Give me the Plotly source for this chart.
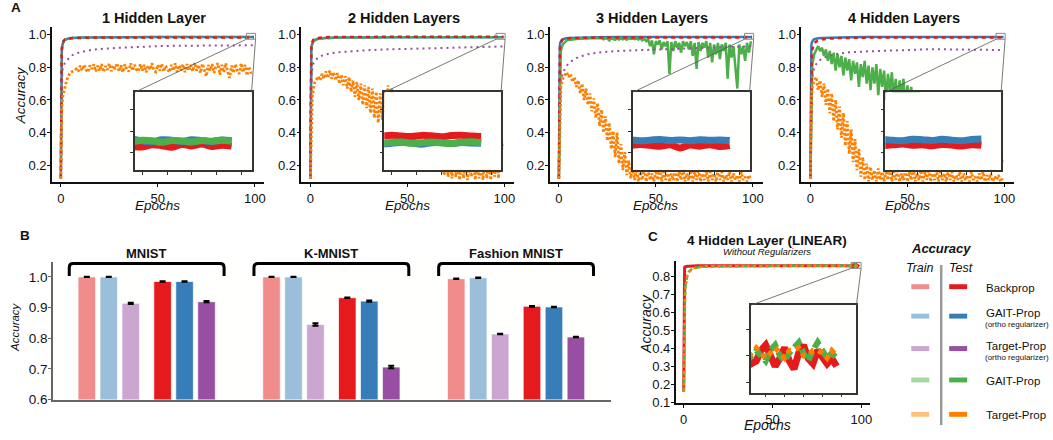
import plotly.graph_objects as go

# ============================ DATA ============================
SMOOTH_EPOCHS = [0, 0.25, 0.5, 0.75, 1, 1.5, 2, 3, 4, 6, 8, 10, 15, 20, 30, 40, 50, 60, 70, 80, 90,
                 95, 95.5, 96, 96.4, 96.8, 97.2, 97.6, 98, 98.4, 98.8, 99.2, 99.6]
NOISY_EPOCHS = [0, 0.5] + list(range(1, 100))
LINEAR_EPOCHS = [0, 0.25, 0.5, 0.75, 1, 1.5, 2, 3, 4, 5, 6, 8, 10, 15, 20, 30, 40, 50, 60, 70, 80, 90,
                 94, 94.25, 94.5, 94.75, 95, 95.25, 95.5, 95.75, 96, 96.25, 96.5, 96.75,
                 97, 97.25, 97.5, 97.75, 98, 98.25, 98.5, 98.75]

PANEL_TITLES = ["1 Hidden Layer", "2 Hidden Layers", "3 Hidden Layers", "4 Hidden Layers"]

# --- Backprop (test) ---
bp_1hl = [0.12, 0.80, 0.91, 0.94, 0.952, 0.963, 0.969, 0.974, 0.977, 0.979, 0.980, 0.981, 0.982, 0.983, 0.983,
          0.9835, 0.9835, 0.9838, 0.9835, 0.984, 0.9835,
          0.9838, 0.9830, 0.9826, 0.9836, 0.9832, 0.9825, 0.9838, 0.9831, 0.9840, 0.9828, 0.9834, 0.9830]
bp_2hl = [0.12, 0.85, 0.93, 0.95, 0.96, 0.968, 0.973, 0.977, 0.98, 0.982, 0.984, 0.985, 0.986, 0.9865, 0.987,
          0.9872, 0.9875, 0.9876, 0.9877, 0.9878, 0.9878,
          0.9880, 0.9876, 0.9881, 0.9877, 0.9875, 0.9880, 0.9878, 0.9874, 0.9879, 0.9881, 0.9877, 0.9875]
bp_3hl = [0.12, 0.80, 0.91, 0.94, 0.952, 0.963, 0.969, 0.974, 0.977, 0.979, 0.980, 0.981, 0.982, 0.9825, 0.983,
          0.9835, 0.9835, 0.984, 0.9835, 0.984, 0.9838,
          0.9835, 0.9832, 0.9838, 0.9834, 0.9830, 0.9836, 0.9822, 0.9835, 0.9830, 0.9837, 0.9828, 0.9833]
bp_4hl = [0.12, 0.60, 0.82, 0.88, 0.91, 0.935, 0.948, 0.958, 0.964, 0.970, 0.974, 0.976, 0.979, 0.981, 0.982,
          0.983, 0.983, 0.9835, 0.9835, 0.9835, 0.984,
          0.9838, 0.9833, 0.9836, 0.9840, 0.9834, 0.9837, 0.9832, 0.9838, 0.9835, 0.9831, 0.9837, 0.9834]

# --- GAIT-Prop with ortho regularizer (test) ---
gaito_1hl = [0.12, 0.78, 0.90, 0.935, 0.95, 0.962, 0.968, 0.974, 0.977, 0.979, 0.981, 0.982, 0.983, 0.984, 0.985,
             0.985, 0.9855, 0.9855, 0.986, 0.9855, 0.986,
             0.9858, 0.9862, 0.9855, 0.9850, 0.9860, 0.9857, 0.9852, 0.9860, 0.9856, 0.9851, 0.9859, 0.9855]
gaito_2hl = [0.12, 0.80, 0.90, 0.935, 0.95, 0.96, 0.966, 0.972, 0.975, 0.978, 0.98, 0.981, 0.982, 0.983, 0.984,
             0.9842, 0.9845, 0.9845, 0.9847, 0.9846, 0.9848,
             0.9846, 0.9840, 0.9843, 0.9848, 0.9845, 0.9839, 0.9846, 0.9848, 0.9842, 0.9847, 0.9845, 0.9843]
gaito_3hl = [0.12, 0.88, 0.935, 0.952, 0.96, 0.968, 0.972, 0.976, 0.978, 0.98, 0.981, 0.982, 0.983, 0.984, 0.985,
             0.9852, 0.9855, 0.9855, 0.9857, 0.9856, 0.9858,
             0.9857, 0.9860, 0.9855, 0.9858, 0.9861, 0.9856, 0.9859, 0.9855, 0.9860, 0.9857, 0.9859, 0.9856]
gaito_4hl = [0.12, 0.88, 0.935, 0.952, 0.96, 0.968, 0.972, 0.976, 0.978, 0.98, 0.981, 0.982, 0.983, 0.984, 0.985,
             0.9852, 0.9855, 0.9856, 0.9857, 0.9858, 0.9858,
             0.9858, 0.9862, 0.9857, 0.9855, 0.9862, 0.9860, 0.9856, 0.9862, 0.9858, 0.9855, 0.9861, 0.9863]

# --- Target-Prop with ortho regularizer (test) ---
tpo_1hl = [0.12, 0.55, 0.70, 0.76, 0.79, 0.81, 0.825, 0.842, 0.855, 0.875, 0.885, 0.893, 0.905, 0.912, 0.92,
           0.926, 0.93, 0.932, 0.933, 0.934, 0.935,
           0.935, 0.935, 0.934, 0.935, 0.935, 0.934, 0.935, 0.935, 0.935, 0.934, 0.935, 0.935]
tpo_2hl = [0.12, 0.60, 0.72, 0.77, 0.80, 0.82, 0.835, 0.85, 0.86, 0.872, 0.88, 0.885, 0.893, 0.898, 0.905,
           0.91, 0.913, 0.916, 0.92, 0.923, 0.926,
           0.927, 0.927, 0.928, 0.927, 0.928, 0.928, 0.927, 0.928, 0.928, 0.927, 0.928, 0.928]
tpo_3hl = [0.12, 0.45, 0.60, 0.67, 0.71, 0.74, 0.76, 0.79, 0.81, 0.835, 0.85, 0.862, 0.88, 0.89, 0.90,
           0.905, 0.91, 0.915, 0.918, 0.922, 0.926,
           0.928, 0.928, 0.929, 0.928, 0.929, 0.929, 0.928, 0.929, 0.929, 0.928, 0.929, 0.929]
tpo_4hl = [0.12, 0.45, 0.62, 0.70, 0.74, 0.78, 0.80, 0.82, 0.835, 0.855, 0.865, 0.872, 0.885, 0.892, 0.898,
           0.903, 0.908, 0.91, 0.91, 0.909, 0.907,
           0.906, 0.906, 0.905, 0.906, 0.906, 0.905, 0.906, 0.905, 0.906, 0.905, 0.905, 0.906]

# --- GAIT-Prop without regularizer (test) ---
gait_1hl = [0.12, 0.76, 0.895, 0.93, 0.948, 0.96, 0.967, 0.973, 0.976, 0.979, 0.981, 0.982, 0.983, 0.984, 0.985,
            0.9852, 0.9855, 0.9853, 0.9856, 0.9855, 0.9857,
            0.9855, 0.9850, 0.9857, 0.9855, 0.9848, 0.9856, 0.9854, 0.9849, 0.9856, 0.9853, 0.9857, 0.9852]
gait_2hl = [0.12, 0.78, 0.89, 0.93, 0.945, 0.957, 0.964, 0.970, 0.974, 0.977, 0.979, 0.980, 0.982, 0.983, 0.9838,
            0.9842, 0.9845, 0.9846, 0.9845, 0.9848, 0.9847,
            0.9848, 0.9844, 0.9847, 0.9849, 0.9843, 0.9846, 0.9849, 0.9845, 0.9842, 0.9848, 0.9850, 0.9846]
gait_3hl = [0.12, 0.75, 0.90, 0.94, 0.955, 0.963, 0.968, 0.970, 0.972, 0.974,
            0.975, 0.976, 0.977, 0.975, 0.977, 0.978, 0.976, 0.978, 0.977, 0.979,
            0.978, 0.979, 0.977, 0.979, 0.972, 0.978, 0.976, 0.965, 0.978, 0.974,
            0.968, 0.977, 0.970, 0.978, 0.972, 0.977, 0.969, 0.978, 0.975, 0.977,
            0.973, 0.976, 0.970, 0.977, 0.965, 0.975, 0.960, 0.972, 0.930, 0.965,
            0.880, 0.960, 0.940, 0.965, 0.910, 0.955, 0.930, 0.960, 0.760, 0.955,
            0.900, 0.960, 0.920, 0.950, 0.890, 0.960, 0.930, 0.955, 0.910, 0.960,
            0.870, 0.950, 0.790, 0.955, 0.900, 0.950, 0.920, 0.960, 0.860, 0.950,
            0.830, 0.940, 0.880, 0.950, 0.850, 0.940, 0.900, 0.950, 0.730, 0.940,
            0.860, 0.930, 0.800, 0.670, 0.940, 0.880, 0.930, 0.840, 0.950, 0.890,
            0.960]
gait_4hl = [0.12, 0.60, 0.82, 0.88, 0.91, 0.93, 0.90, 0.92, 0.87, 0.91,
            0.84, 0.90, 0.82, 0.89, 0.78, 0.88, 0.80, 0.87, 0.75, 0.86,
            0.78, 0.85, 0.72, 0.84, 0.76, 0.83, 0.68, 0.82, 0.74, 0.84,
            0.70, 0.81, 0.66, 0.80, 0.70, 0.82, 0.63, 0.79, 0.68, 0.78,
            0.60, 0.76, 0.65, 0.77, 0.61, 0.73, 0.58, 0.72, 0.62, 0.73,
            0.56, 0.69, 0.60, 0.68, 0.55, 0.66, 0.57, 0.65, 0.53, 0.62,
            0.50, 0.55, 0.48, 0.53, 0.45, 0.50, 0.42, 0.47, 0.39, 0.44,
            0.36, 0.41, 0.34, 0.39, 0.31, 0.36, 0.29, 0.34, 0.27, 0.32,
            0.25, 0.30, 0.24, 0.29, 0.22, 0.28, 0.21, 0.26, 0.20, 0.25,
            0.19, 0.24, 0.18, 0.23, 0.17, 0.23, 0.17, 0.22, 0.19, 0.27,
            0.22]

# --- Target-Prop without regularizer (test) ---
tp_1hl = [0.12, 0.55, 0.62, 0.68, 0.72, 0.75, 0.77, 0.775, 0.785, 0.79,
          0.775, 0.81, 0.78, 0.815, 0.785, 0.77, 0.812, 0.79, 0.818, 0.775,
          0.81, 0.78, 0.82, 0.772, 0.808, 0.785, 0.822, 0.776, 0.81, 0.79,
          0.825, 0.775, 0.812, 0.77, 0.818, 0.79, 0.775, 0.825, 0.78, 0.815,
          0.785, 0.775, 0.82, 0.78, 0.815, 0.77, 0.81, 0.785, 0.825, 0.78,
          0.772, 0.815, 0.78, 0.822, 0.775, 0.81, 0.79, 0.77, 0.815, 0.78,
          0.825, 0.772, 0.812, 0.78, 0.818, 0.77, 0.82, 0.78, 0.815, 0.775,
          0.828, 0.78, 0.815, 0.765, 0.822, 0.775, 0.745, 0.815, 0.78, 0.82,
          0.765, 0.81, 0.825, 0.755, 0.815, 0.77, 0.825, 0.775, 0.735, 0.81,
          0.765, 0.82, 0.775, 0.76, 0.825, 0.77, 0.815, 0.75, 0.805, 0.765,
          0.78]
tp_2hl = [0.12, 0.50, 0.62, 0.70, 0.72, 0.745, 0.72, 0.76, 0.73, 0.775,
          0.735, 0.78, 0.73, 0.77, 0.72, 0.765, 0.70, 0.755, 0.69, 0.745,
          0.67, 0.74, 0.65, 0.72, 0.62, 0.71, 0.60, 0.70, 0.57, 0.69,
          0.55, 0.68, 0.52, 0.67, 0.49, 0.65, 0.46, 0.64, 0.48, 0.66,
          0.50, 0.69, 0.45, 0.67, 0.42, 0.62, 0.40, 0.58, 0.38, 0.55,
          0.35, 0.52, 0.33, 0.49, 0.30, 0.46, 0.28, 0.43, 0.26, 0.40,
          0.24, 0.38, 0.22, 0.35, 0.20, 0.32, 0.18, 0.30, 0.16, 0.28,
          0.14, 0.26, 0.13, 0.24, 0.12, 0.25, 0.13, 0.22, 0.11, 0.24,
          0.12, 0.23, 0.11, 0.21, 0.13, 0.24, 0.11, 0.22, 0.12, 0.20,
          0.11, 0.23, 0.12, 0.25, 0.11, 0.21, 0.13, 0.28, 0.12, 0.45,
          0.30]
tp_3hl = [0.12, 0.55, 0.68, 0.73, 0.75, 0.77, 0.74, 0.76, 0.71, 0.74,
          0.68, 0.72, 0.64, 0.70, 0.60, 0.67, 0.57, 0.64, 0.53, 0.61,
          0.49, 0.58, 0.44, 0.54, 0.40, 0.50, 0.35, 0.46, 0.30, 0.41,
          0.25, 0.40, 0.21, 0.33, 0.17, 0.28, 0.14, 0.23, 0.12, 0.19,
          0.11, 0.18, 0.10, 0.16, 0.11, 0.19, 0.10, 0.17, 0.11, 0.15,
          0.10, 0.17, 0.11, 0.19, 0.10, 0.16, 0.11, 0.18, 0.10, 0.15,
          0.11, 0.17, 0.10, 0.16, 0.11, 0.19, 0.10, 0.15, 0.11, 0.17,
          0.10, 0.16, 0.11, 0.18, 0.10, 0.15, 0.11, 0.17, 0.10, 0.16,
          0.11, 0.15, 0.10, 0.17, 0.11, 0.16, 0.10, 0.14, 0.11, 0.16,
          0.10, 0.15, 0.11, 0.14, 0.10, 0.16, 0.11, 0.13, 0.10, 0.14,
          0.11]
tp_4hl = [0.12, 0.60, 0.68, 0.72, 0.74, 0.66, 0.72, 0.62, 0.70, 0.57,
          0.67, 0.52, 0.64, 0.47, 0.60, 0.42, 0.56, 0.37, 0.52, 0.32,
          0.47, 0.27, 0.42, 0.22, 0.36, 0.17, 0.30, 0.13, 0.25, 0.11,
          0.21, 0.10, 0.19, 0.11, 0.17, 0.10, 0.18, 0.11, 0.16, 0.10,
          0.17, 0.11, 0.19, 0.10, 0.16, 0.11, 0.18, 0.10, 0.15, 0.11,
          0.17, 0.10, 0.16, 0.11, 0.19, 0.10, 0.15, 0.11, 0.17, 0.10,
          0.16, 0.11, 0.18, 0.10, 0.15, 0.11, 0.17, 0.10, 0.16, 0.11,
          0.15, 0.10, 0.17, 0.11, 0.16, 0.10, 0.14, 0.11, 0.16, 0.10,
          0.15, 0.11, 0.14, 0.10, 0.16, 0.11, 0.13, 0.10, 0.15, 0.11,
          0.16, 0.10, 0.14, 0.11, 0.15, 0.10, 0.13, 0.11, 0.14, 0.10,
          0.12]

# --- Panel B: final accuracies ---
DATASETS = ["MNIST", "K-MNIST", "Fashion MNIST"]
train_bp = [1.000, 1.000, 0.994]
train_gaito = [1.000, 1.000, 0.997]
train_tpo = [0.914, 0.845, 0.814]
test_bp = [0.985, 0.932, 0.904]
test_gaito = [0.985, 0.921, 0.902]
test_tpo = [0.919, 0.706, 0.804]
train_bp_err = [0.0006, 0.0006, 0.001]
train_gaito_err = [0.0006, 0.0006, 0.001]
train_tpo_err = [0.002, 0.004, 0.001]
test_bp_err = [0.001, 0.001, 0.001]
test_gaito_err = [0.001, 0.002, 0.001]
test_tpo_err = [0.002, 0.004, 0.001]

# --- Panel C: 4 hidden layer linear network ---
bp_lin = [0.16, 0.84, 0.852, 0.855, 0.856, 0.857, 0.858, 0.858, 0.859, 0.859, 0.86, 0.86, 0.86, 0.861, 0.86,
          0.861, 0.86, 0.861, 0.86, 0.861, 0.86, 0.861,
          0.859, 0.857, 0.858, 0.862, 0.864, 0.860, 0.856, 0.859, 0.863, 0.858, 0.855, 0.861,
          0.864, 0.859, 0.857, 0.862, 0.860, 0.857, 0.859, 0.856]
gait_lin = [0.16, 0.45, 0.62, 0.70, 0.75, 0.79, 0.81, 0.83, 0.84, 0.845, 0.848, 0.852, 0.855, 0.857, 0.858,
            0.859, 0.86, 0.86, 0.861, 0.86, 0.861, 0.86,
            0.858, 0.860, 0.862, 0.860, 0.858, 0.862, 0.864, 0.860, 0.858, 0.861, 0.863, 0.865,
            0.861, 0.858, 0.862, 0.865, 0.862, 0.859, 0.861, 0.859]
tp_lin = [0.16, 0.42, 0.60, 0.69, 0.74, 0.785, 0.805, 0.825, 0.838, 0.845, 0.848, 0.852, 0.855, 0.857, 0.858,
          0.859, 0.86, 0.86, 0.861, 0.86, 0.861, 0.86,
          0.858, 0.861, 0.863, 0.861, 0.859, 0.861, 0.863, 0.861, 0.859, 0.862, 0.862, 0.863,
          0.860, 0.860, 0.862, 0.862, 0.861, 0.859, 0.862, 0.860]

LEGEND_LABELS = ["Backprop", "GAIT-Prop", "Target-Prop", "GAIT-Prop", "Target-Prop"]
LEGEND_SUBLABELS = [None, "(ortho regularizer)", "(ortho regularizer)", None, None]

# ============================ STYLE / LAYOUT ============================
RED, BLUE, PURPLE, GREEN, ORANGE = "#e41a1c", "#377eb8", "#984ea3", "#4daf4a", "#ff7f00"
LIGHT = {RED: "#f18c8d", BLUE: "#9bbedb", PURPLE: "#cba6d1", GREEN: "#a6d7a4", ORANGE: "#ffbf7f"}
FONT = "Liberation Sans, Arial, Helvetica, sans-serif"
TICKFONT = dict(family=FONT, size=13, color="#111")

W, H = 1053, 440


def fx(px):
    return px / W


def fy(py):
    return 1 - py / H


def lin(v, r, p):
    return p[0] + (v - r[0]) / (r[1] - r[0]) * (p[1] - p[0])


def axn(n):
    return ("x" if n == 1 else f"x{n}", "y" if n == 1 else f"y{n}")


def layn(n):
    return ("xaxis" if n == 1 else f"xaxis{n}", "yaxis" if n == 1 else f"yaxis{n}")


A_X = [(52, 265), (302, 515), (551, 764), (803, 1016)]
A_Y = (27, 185)
A_XR = [-4.6, 105]
A_YR = [0.1, 1.05]
IN_X = [(135, 252), (385, 502), (634, 751), (887, 1003)]
IN_Y = (94, 173)
IN_XR = [95.7, 100.4]
IN_YR = [0.972, 1.008]

B_X = (53, 612)
B_Y = (267, 407)
B_XR = [-1.545, 23.86]
B_YR = [0.6, 1.048]
GROUP_GAP = 8.41
SLOT = [0, 1, 2, 3.45, 4.45, 5.45]

C_X = (677, 872)
C_Y = (266, 410)
C_XR = [-4.5, 105]
C_YR = [0.1, 0.886]
CI_X = (752, 858)
CI_Y = (311, 400)
CI_XR = [94.2, 99.8]
CI_YR = [0.846, 0.879]

BP = [bp_1hl, bp_2hl, bp_3hl, bp_4hl]
GAITO = [gaito_1hl, gaito_2hl, gaito_3hl, gaito_4hl]
TPO = [tpo_1hl, tpo_2hl, tpo_3hl, tpo_4hl]
GAIT = [(SMOOTH_EPOCHS, gait_1hl), (SMOOTH_EPOCHS, gait_2hl), (NOISY_EPOCHS, gait_3hl), (NOISY_EPOCHS, gait_4hl)]
TP = [tp_1hl, tp_2hl, tp_3hl, tp_4hl]

for s in BP + GAITO + TPO + [gait_1hl, gait_2hl]:
    assert len(s) == len(SMOOTH_EPOCHS), len(s)
for s in TP + [gait_3hl, gait_4hl]:
    assert len(s) == len(NOISY_EPOCHS), len(s)
for s in [bp_lin, gait_lin, tp_lin]:
    assert len(s) == len(LINEAR_EPOCHS), len(s)

fig = go.Figure()
layout = dict(width=W, height=H, margin=dict(l=0, r=0, t=0, b=0, pad=0),
              paper_bgcolor="white", plot_bgcolor="#fffffe", showlegend=False,
              barmode="overlay", font=dict(family=FONT, color="#111"))
shapes = []
annotations = []


def line_tr(x, y, n, color, width, dash="solid", shape="linear"):
    xa, ya = axn(n)
    fig.add_trace(go.Scatter(x=x, y=y, mode="lines", xaxis=xa, yaxis=ya, hoverinfo="skip",
                             line=dict(color=color, width=width, dash=dash, shape=shape)))


def main_axes(n, xd, yd, xr, yr, ytickvals):
    xk, yk = layn(n)
    xa, ya = axn(n)
    layout[xk] = dict(domain=[fx(xd[0]), fx(xd[1])], range=xr, anchor=ya, tickvals=[0, 50, 100],
                      ticks="outside", ticklen=4, tickcolor="#111", showline=True, linecolor="#111",
                      linewidth=1.5, showgrid=False, zeroline=False, tickfont=TICKFONT)
    layout[yk] = dict(domain=[fy(yd[1]), fy(yd[0])], range=yr, anchor=xa, tickvals=ytickvals,
                      tickformat=".1f", ticks="outside", ticklen=3, tickcolor="#111", showline=True,
                      linecolor="#111", linewidth=1.5, showgrid=False, zeroline=False, tickfont=TICKFONT,
                      ticklabelstandoff=-2)


def inset_axes(n, xd, yd, xr, yr, x0tick):
    xk, yk = layn(n)
    xa, ya = axn(n)
    common = dict(showline=True, mirror=True, linecolor="#333", linewidth=1.5, ticks="outside",
                  ticklen=3, tickcolor="#333", showticklabels=False, showgrid=False, zeroline=False)
    layout[xk] = dict(domain=[fx(xd[0]), fx(xd[1])], range=xr, anchor=ya, dtick=1, tick0=x0tick, **common)
    layout[yk] = dict(domain=[fy(yd[1]), fy(yd[0])], range=yr, anchor=xa, dtick=0.01, tick0=0.8, **common)


def zoom_marks(main_xd, main_yd, main_xr, main_yr, in_xd, in_yd, in_xr, in_yr):
    rx0 = lin(in_xr[0], main_xr, main_xd)
    rx1 = lin(in_xr[1], main_xr, main_xd)
    ry0 = lin(in_yr[0], main_yr, (main_yd[1], main_yd[0]))
    ry1 = lin(in_yr[1], main_yr, (main_yd[1], main_yd[0]))
    shapes.append(dict(type="rect", xref="paper", yref="paper", x0=fx(rx0), x1=fx(rx1), y0=fy(ry0), y1=fy(ry1),
                       line=dict(color="#888", width=1), layer="above"))
    shapes.append(dict(type="line", xref="paper", yref="paper", x0=fx(rx0), y0=fy(ry0),
                       x1=fx(in_xd[0]), y1=fy(in_yd[0]), line=dict(color="#555", width=0.8)))
    shapes.append(dict(type="line", xref="paper", yref="paper", x0=fx(rx1), y0=fy(ry0),
                       x1=fx(in_xd[1]), y1=fy(in_yd[0]), line=dict(color="#555", width=0.8)))


def text(x, y, s, size, xanchor="center", angle=0, xref="paper", color="#111"):
    annotations.append(dict(x=x, y=y, xref=xref, yref="paper", text=s, showarrow=False,
                            xanchor=xanchor, yanchor="middle", textangle=angle,
                            font=dict(family=FONT, size=size, color=color)))


# ---------------- Panel A ----------------
for i in range(4):
    nm, ni = 2 * i + 1, 2 * i + 2
    main_axes(nm, A_X[i], A_Y, A_XR, A_YR, [0.2, 0.4, 0.6, 0.8, 1.0])
    inset_axes(ni, IN_X[i], IN_Y, IN_XR, IN_YR, 96)
    gx, gy = GAIT[i]
    noisy_green = gx is NOISY_EPOCHS
    line_tr(SMOOTH_EPOCHS, GAITO[i], nm, BLUE, 2.5)
    if noisy_green:
        line_tr(gx, gy, nm, GREEN, 2.5)
    else:
        line_tr(gx, gy, nm, GREEN, 2.5, "5px,3px")
    line_tr(SMOOTH_EPOCHS, BP[i], nm, RED, 2.5, "4px,4px")
    line_tr(SMOOTH_EPOCHS, TPO[i], nm, PURPLE, 2, "2px,4px")
    line_tr(NOISY_EPOCHS, TP[i], nm, ORANGE, 2.8, "2.5px,2px")
    # inset
    line_tr(SMOOTH_EPOCHS, BP[i], ni, RED, 7, shape="spline")
    line_tr(SMOOTH_EPOCHS, GAITO[i], ni, BLUE, 7, shape="spline")
    line_tr(gx, gy, ni, GREEN, 7, shape="spline")
    zoom_marks(A_X[i], A_Y, A_XR, A_YR, IN_X[i], IN_Y, IN_XR, IN_YR)
    xa, _ = axn(nm)
    text(fx((A_X[i][0] + A_X[i][1]) / 2 - 4), fy(18), "<b>" + PANEL_TITLES[i] + "</b>", 14.5)
    annotations.append(dict(x=50, y=fy(209), xref=xa, yref="paper", text="<i>Epochs</i>", showarrow=False,
                            xanchor="center", yanchor="middle", font=dict(family=FONT, size=13.5, color="#111")))

text(fx(20), fy(97), "<i>Accuracy</i>", 13.5, angle=-90)
text(fx(16), fy(8), "<b>A</b>", 13.5)

# ---------------- Panel B ----------------
nb = 9
xk, yk = layn(nb)
layout[xk] = dict(domain=[fx(B_X[0]), fx(B_X[1])], range=B_XR, anchor="y9", showticklabels=False,
                  ticks="", showline=True, linecolor="#666", linewidth=1.5, showgrid=False, zeroline=False)
layout[yk] = dict(domain=[fy(B_Y[1]), fy(B_Y[0])], range=B_YR, anchor="x9",
                  tickvals=[0.6, 0.7, 0.8, 0.9, 1.0], tickformat=".1f", ticks="outside", ticklen=3,
                  tickcolor="#666", showline=True, linecolor="#666", linewidth=1.5, showgrid=False,
                  zeroline=False, tickfont=dict(family=FONT, size=13.5, color="#111"), ticklabelstandoff=-2)

bar_series = [(train_bp, train_bp_err, LIGHT[RED]), (train_gaito, train_gaito_err, LIGHT[BLUE]),
              (train_tpo, train_tpo_err, LIGHT[PURPLE]), (test_bp, test_bp_err, RED),
              (test_gaito, test_gaito_err, BLUE), (test_tpo, test_tpo_err, PURPLE)]
for k, (vals, errs, col) in enumerate(bar_series):
    xs = [g * GROUP_GAP + SLOT[k] for g in range(len(DATASETS))]
    fig.add_trace(go.Bar(x=xs, y=vals, width=0.8, xaxis="x9", yaxis="y9", hoverinfo="skip",
                         marker=dict(color=col, line=dict(color="rgba(255,255,255,0.7)", width=1)),
                         error_y=dict(type="data", array=errs, color="#000", thickness=2, width=3)))

for g, name in enumerate(DATASETS):
    L = lin(g * GROUP_GAP + SLOT[0] - 0.8, B_XR, B_X)
    R = lin(g * GROUP_GAP + SLOT[-1] + 0.8, B_XR, B_X)
    yt, yb, r = 268.5, 281, 4
    path = (f"M {fx(L)},{fy(yb)} L {fx(L)},{fy(yt + r)} Q {fx(L)},{fy(yt)} {fx(L + r)},{fy(yt)} "
            f"L {fx(R - r)},{fy(yt)} Q {fx(R)},{fy(yt)} {fx(R)},{fy(yt + r)} L {fx(R)},{fy(yb)}")
    shapes.append(dict(type="path", xref="paper", yref="paper", path=path, line=dict(color="#000", width=3)))
    text(fx((L + R) / 2), fy(258), "<b>" + name + "</b>", 13)

text(fx(15), fy(333), "<i>Accuracy</i>", 11.5, angle=-90)
text(fx(25), fy(240), "<b>B</b>", 13.5)

# ---------------- Panel C ----------------
main_axes(10, C_X, C_Y, C_XR, C_YR, [0.1, 0.2, 0.3, 0.4, 0.5, 0.6, 0.7, 0.8])
inset_axes(11, CI_X, CI_Y, CI_XR, CI_YR, 95)
line_tr(LINEAR_EPOCHS, bp_lin, 10, RED, 3)
line_tr(LINEAR_EPOCHS, gait_lin, 10, GREEN, 2.5, "5px,3px")
line_tr(LINEAR_EPOCHS, tp_lin, 10, ORANGE, 2.5, "3px,3px")
line_tr(LINEAR_EPOCHS, bp_lin, 11, RED, 7)
line_tr(LINEAR_EPOCHS, gait_lin, 11, GREEN, 6, "9px,5px")
line_tr(LINEAR_EPOCHS, tp_lin, 11, ORANGE, 5, "5px,5px")
zoom_marks(C_X, C_Y, C_XR, C_YR, CI_X, CI_Y, CI_XR, CI_YR)
annotations.append(dict(x=47, y=fy(433), xref="x10", yref="paper", text="<i>Epochs</i>", showarrow=False,
                        xanchor="center", yanchor="middle", font=dict(family=FONT, size=14, color="#111")))
text(fx(647), fy(330), "<i>Accuracy</i>", 14, angle=-90)
text(fx(768), fy(245), "<b>4 Hidden Layer (LINEAR)</b>", 13.5)
text(fx(768), fy(256), "<i>Without Regularizers</i>", 9.5)
text(fx(654), fy(241), "<b>C</b>", 13.5)

# ---------------- Legend ----------------
text(fx(943), fy(253), "<b><i>Accuracy</i></b>", 13)
text(fx(922), fy(273), "<i>Train</i>", 12.5)
text(fx(963), fy(273), "<i>Test</i>", 12.5)
shapes.append(dict(type="line", xref="paper", yref="paper", x0=fx(943), x1=fx(943), y0=fy(270), y1=fy(433),
                   line=dict(color="#999", width=2.5)))
ROW_Y = [292, 322, 355, 387, 422]
for col, lab, sub, ry in zip([RED, BLUE, PURPLE, GREEN, ORANGE], LEGEND_LABELS, LEGEND_SUBLABELS, ROW_Y):
    shapes.append(dict(type="rect", xref="paper", yref="paper", x0=fx(913), x1=fx(931),
                       y0=fy(ry + 2.5), y1=fy(ry - 2.5), fillcolor=LIGHT[col], line=dict(width=0)))
    shapes.append(dict(type="rect", xref="paper", yref="paper", x0=fx(951), x1=fx(969),
                       y0=fy(ry + 2.5), y1=fy(ry - 2.5), fillcolor=col, line=dict(width=0)))
    if sub:
        text(fx(986), fy(ry - 3), lab, 11.5, xanchor="left")
        text(fx(985), fy(ry + 9), sub, 8, xanchor="left")
    else:
        text(fx(986), fy(ry + 1), lab, 11.5, xanchor="left")

layout["shapes"] = shapes
layout["annotations"] = annotations
fig.update_layout(**layout)
fig.write_html("out.html", config={"displayModeBar": False},
               post_script="document.body.style.margin='0';document.body.style.overflow='hidden';")
